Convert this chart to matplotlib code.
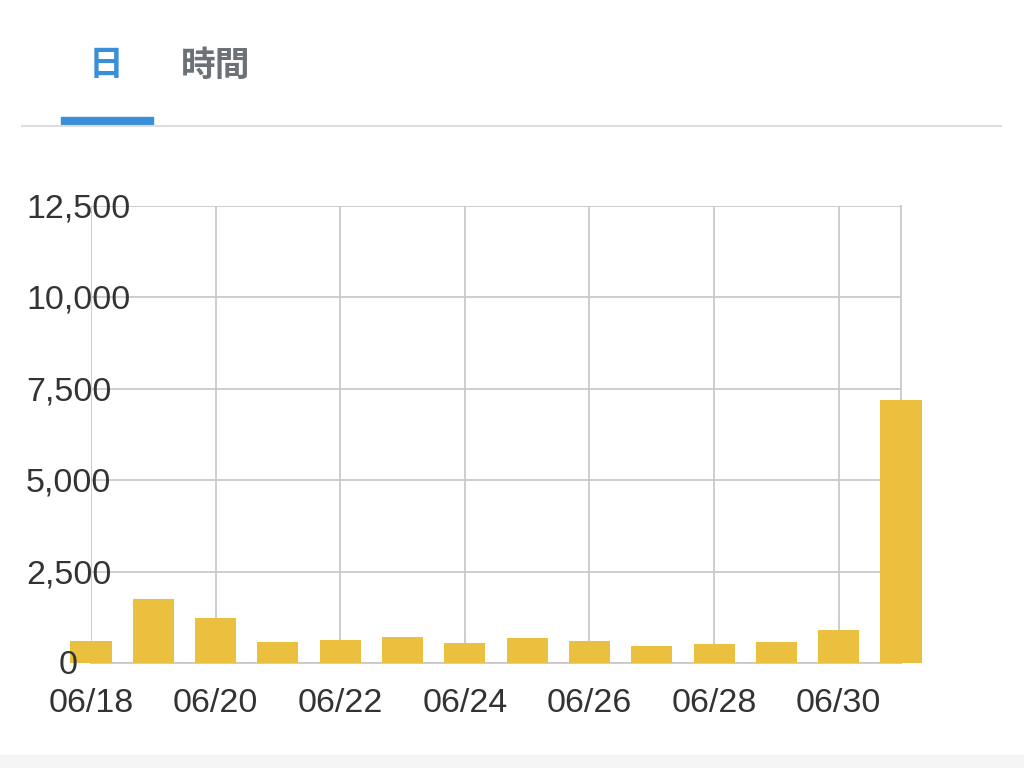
import matplotlib

matplotlib.use("Agg")
import matplotlib.pyplot as plt
import matplotlib.transforms as mtransforms
import numpy as np

DAYS = ["06/18", "06/19", "06/20", "06/21", "06/22", "06/23", "06/24",
        "06/25", "06/26", "06/27", "06/28", "06/29", "06/30", "07/01"]
VIEWS = [590, 1745, 1236, 573, 636, 698, 545, 671, 600, 453, 526, 562, 908, 7200]
Y_TICKS = [0, 2500, 5000, 7500, 10000, 12500]
TABS = ["日", "時間"]

BAR = "#ebc03f"
GRID = "#c9c9c9"
TEXT = "#333333"
BLUE = "#3a8fd9"

plt.rcParams["font.family"] = ["Liberation Sans", "Noto Sans CJK JP", "DejaVu Sans"]

fig = plt.figure(figsize=(10.24, 7.68), dpi=100)
ax = fig.add_axes([91 / 1024, 105 / 768, 810 / 1024, 457 / 768])

x = np.arange(len(DAYS))
ax.bar(x, VIEWS, width=0.66, color=BAR, zorder=3, clip_on=False)
ax.set_xlim(0, len(DAYS) - 1)
ax.set_ylim(0, 12500)

ax.set_xticks(x[::2])
ax.set_xticklabels(DAYS[::2])
ax.set_yticks(Y_TICKS)
ax.set_yticklabels([])
ax.tick_params(axis="both", length=0, labelsize=24.5, labelcolor=TEXT)
ax.tick_params(axis="x", pad=18)
ax.grid(True, color=GRID, linewidth=1.3, zorder=0)
for s in ("top", "left"):
    ax.spines[s].set_visible(False)
for s in ("right", "bottom"):
    ax.spines[s].set_color(GRID)
    ax.spines[s].set_linewidth(1.3)

# y labels: left-aligned in the margin, the zero sits closer to the axis
ytrans = mtransforms.offset_copy(ax.get_yaxis_transform(), fig=fig, y=-3, units="dots")
for v in Y_TICKS:
    xpos = -0.0395 if v == 0 else -0.0802
    ax.text(xpos, v, f"{v:,}", transform=ytrans, ha="left", va="center",
            fontsize=24.5, color=TEXT, zorder=6)

# tab header
fig.text(106 / 1024, 1 - 65 / 768, TABS[0], color=BLUE, fontsize=25,
         ha="center", va="center", family=["Noto Sans CJK JP"], weight="bold")
fig.text(216 / 1024, 1 - 65 / 768, TABS[1], color="#6c7177", fontsize=25,
         ha="center", va="center", family=["Noto Sans CJK JP"], weight="bold")
fig.add_artist(plt.Line2D([22 / 1024, 1001 / 1024], [1 - 126 / 768] * 2,
                          color="#dddddd", linewidth=1.5))
fig.add_artist(plt.Rectangle((61 / 1024, 1 - 124 / 768), 92 / 1024, 7 / 768,
                             color=BLUE, transform=fig.transFigure))
fig.add_artist(plt.Rectangle((0, 0), 1, 13 / 768, color="#f5f5f5",
                             transform=fig.transFigure))

fig.savefig("out.png", dpi=100)
